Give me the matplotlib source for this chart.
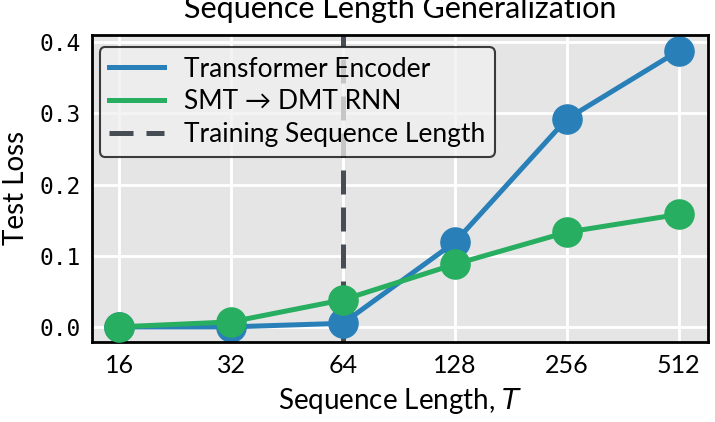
import matplotlib
matplotlib.use("Agg")
import matplotlib.pyplot as plt

seq_lengths = [16, 32, 64, 128, 256, 512]
transformer_loss = [0.0, 0.0, 0.005, 0.119, 0.292, 0.388]
rnn_loss = [0.0, 0.007, 0.038, 0.088, 0.133, 0.158]
train_length = 64

blue = "#2980b9"
green = "#27ae60"
gray = "#474d55"
label_font = ["Lato", "DejaVu Sans"]

fig = plt.figure(figsize=(7.15, 4.22), dpi=100)
ax = fig.add_axes([0.129, 0.19, 0.861, 0.727])
ax.set_facecolor("#e5e5e5")
ax.grid(True, color="white", linewidth=2)
ax.set_axisbelow(True)

ax.axvline(train_length, color=gray, linewidth=3.6, dashes=(4.8, 2.6),
           label="Training Sequence Length", zorder=1)
ax.plot(seq_lengths, transformer_loss, color=blue, linewidth=3.6, marker="o",
        markersize=21, label="Transformer Encoder", zorder=2)
ax.plot(seq_lengths, rnn_loss, color=green, linewidth=3.6, marker="o",
        markersize=21, label="SMT → DMT RNN", zorder=3)

ax.set_xscale("log", base=2)
ax.set_xticks(seq_lengths)
ax.set_xticklabels([str(s) for s in seq_lengths])
ax.minorticks_off()
ax.set_xlim(16 / 2 ** 0.24, 512 * 2 ** 0.26)
ax.set_ylim(-0.021, 0.41)
ax.set_yticks([0.0, 0.1, 0.2, 0.3, 0.4])
ax.set_yticklabels(["0.0", "0.1", "0.2", "0.3", "0.4"])
ax.tick_params(axis="y", length=0, pad=8, labelsize=16.5)
ax.tick_params(axis="x", length=0, pad=9, labelsize=18)
for lab in ax.get_yticklabels():
    lab.set_family("DejaVu Sans Mono")
for lab in ax.get_xticklabels():
    lab.set_family(label_font)

for sp in ax.spines.values():
    sp.set_color("black")
    sp.set_linewidth(2)

ax.set_xlabel("Sequence Length, $T$", fontsize=20, family=label_font, labelpad=6)
ax.set_ylabel("Test Loss", fontsize=20, family=label_font, labelpad=8)
ax.set_title("Sequence Length Generalization", fontsize=22, family=label_font, pad=12)

handles, labels = ax.get_legend_handles_labels()
order = [1, 2, 0]
leg = ax.legend([handles[i] for i in order], [labels[i] for i in order],
                loc="upper left", bbox_to_anchor=(0.012, 0.96),
                borderaxespad=0,
                prop={"family": label_font, "size": 19}, handlelength=2.1,
                handletextpad=0.75, framealpha=0.75, facecolor="#f0f0f0",
                edgecolor="black", borderpad=0.35, labelspacing=0.3)
leg.get_frame().set_linewidth(1.5)
for h in leg.legend_handles:
    h.set_marker("")

fig.savefig("out.png", dpi=100)
